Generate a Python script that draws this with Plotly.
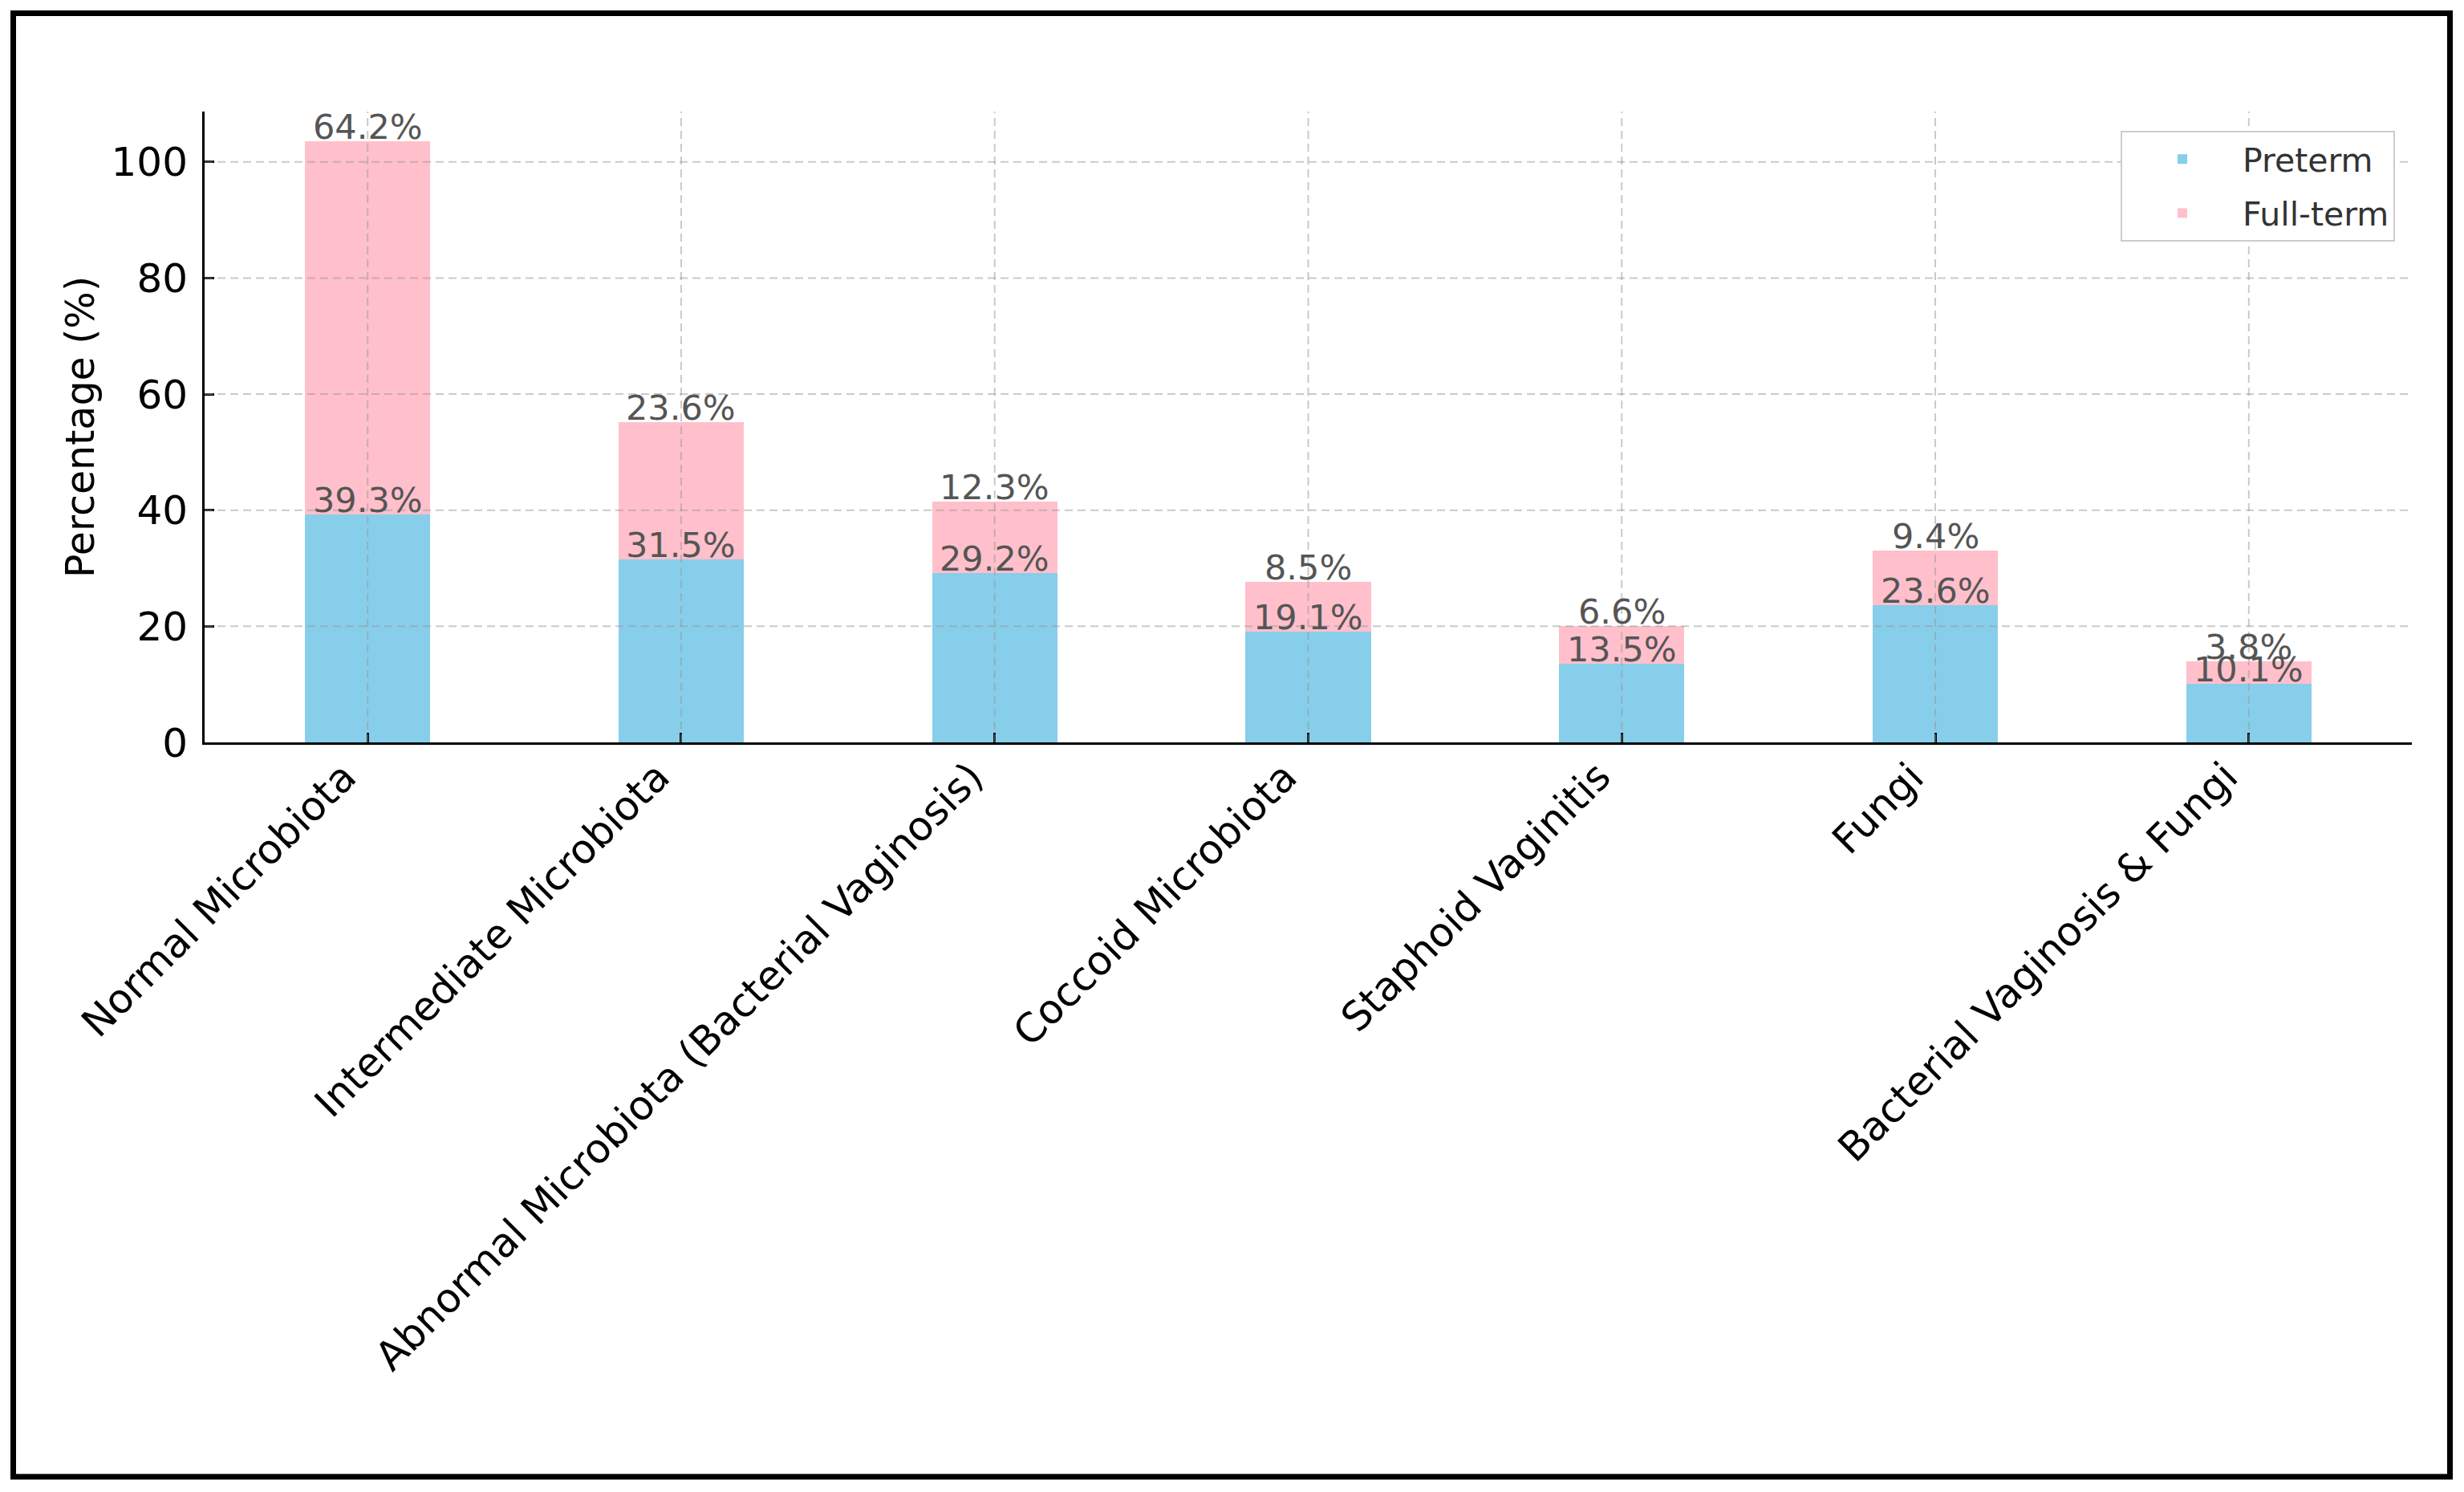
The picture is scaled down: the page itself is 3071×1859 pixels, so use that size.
import plotly.graph_objects as go

categories = [
    "Normal Microbiota",
    "Intermediate Microbiota",
    "Abnormal Microbiota (Bacterial Vaginosis)",
    "Coccoid Microbiota",
    "Staphoid Vaginitis",
    "Fungi",
    "Bacterial Vaginosis & Fungi",
]
preterm = [39.3, 31.5, 29.2, 19.1, 13.5, 23.6, 10.1]
full_term = [64.2, 23.6, 12.3, 8.5, 6.6, 9.4, 3.8]
y_ticks = [0, 20, 40, 60, 80, 100]

# page body has an 8px margin; figure is sized/offset to compensate
OFF = 8
W, H = 3071 - OFF, 1859 - OFF
L, R, T, B = 255 - OFF, 65, 139 - OFF, 934
pw, ph = W - L - R, H - T - B

FONT = "DejaVu Sans"
BLUE = "#87CEEB"
PINK = "#FFC0CB"

fig = go.Figure()
fig.add_trace(go.Bar(x=categories, y=preterm, name="Preterm", marker_color=BLUE,
                     marker_line_width=0, width=0.4, legendgroup="a"))
fig.add_trace(go.Bar(x=categories, y=full_term, name="Full-term", marker_color=PINK,
                     marker_line_width=0, width=0.4, legendgroup="b"))

totals = [p + f for p, f in zip(preterm, full_term)]
ymax = max(totals) * 1.05

annotations = []
val_font = dict(family=FONT, size=43, color="#555555")
for c, p, f, t in zip(categories, preterm, full_term, totals):
    annotations.append(dict(x=c, y=p, xref="x", yref="y", text=f"{p}%", showarrow=False,
                            yanchor="bottom", yshift=-9, font=val_font))
    annotations.append(dict(x=c, y=t, xref="x", yref="y", text=f"{f}%", showarrow=False,
                            yanchor="bottom", yshift=-9, font=val_font))

# rotated category labels (right edge of rotated box at the tick, like ha='right')
for c in categories:
    annotations.append(dict(x=c, y=0, xref="x", yref="paper", text=c, showarrow=False,
                            textangle=-45, xanchor="right", yanchor="top", yshift=-11,
                            font=dict(family=FONT, size=50, color="black")))

shapes = []
grid_line = dict(color="rgba(150,150,150,0.5)", width=2, dash="10px,6px")
for v in y_ticks[1:]:
    shapes.append(dict(type="line", xref="paper", yref="y", x0=0, x1=1, y0=v, y1=v,
                       line=grid_line, layer="above"))
for c in categories:
    shapes.append(dict(type="line", xref="x", yref="paper", x0=c, x1=c, y0=0, y1=1,
                       line=grid_line, layer="above"))

# outer black frame (screen pixel positions -> paper)
def px_x(px):
    return (px - OFF - L) / pw

def px_y(py):
    return (H - B - (py - OFF)) / ph

shapes.append(dict(type="rect", xref="paper", yref="paper",
                   x0=px_x(16.5), x1=px_x(3053.5), y0=px_y(1840), y1=px_y(16.5),
                   line=dict(color="black", width=7), fillcolor="rgba(0,0,0,0)", layer="above"))

fig.update_layout(
    width=W, height=H,
    margin=dict(l=L, r=R, t=T, b=B, autoexpand=False),
    barmode="stack",
    plot_bgcolor="white", paper_bgcolor="white",
    font=dict(family=FONT, color="black"),
    annotations=annotations,
    shapes=shapes,
    legend=dict(x=px_x(2985), y=px_y(163), xanchor="right", yanchor="top",
                bgcolor="white", bordercolor="#cccccc", borderwidth=2,
                font=dict(family=FONT, size=41, color="#333333"),
                traceorder="grouped", tracegroupgap=11,
                itemwidth=140),
    showlegend=True,
)
fig.update_xaxes(
    range=[-0.52, 6.52], showticklabels=False,
    showline=True, linecolor="black", linewidth=3,
    ticks="inside", ticklen=12, tickwidth=2.5, tickcolor="black",
    showgrid=False, zeroline=False, automargin=False,
)
fig.update_yaxes(
    range=[0, ymax], tickvals=y_ticks,
    showline=True, linecolor="black", linewidth=3,
    ticks="inside", ticklen=12, tickwidth=2.5, tickcolor="black",
    tickfont=dict(family=FONT, size=50, color="black"),
    ticklabelstandoff=8,
    title=dict(text="Percentage (%)", font=dict(family=FONT, size=49, color="black"), standoff=6),
    showgrid=False, zeroline=False, automargin=False,
)

fig.write_html("out.html")
